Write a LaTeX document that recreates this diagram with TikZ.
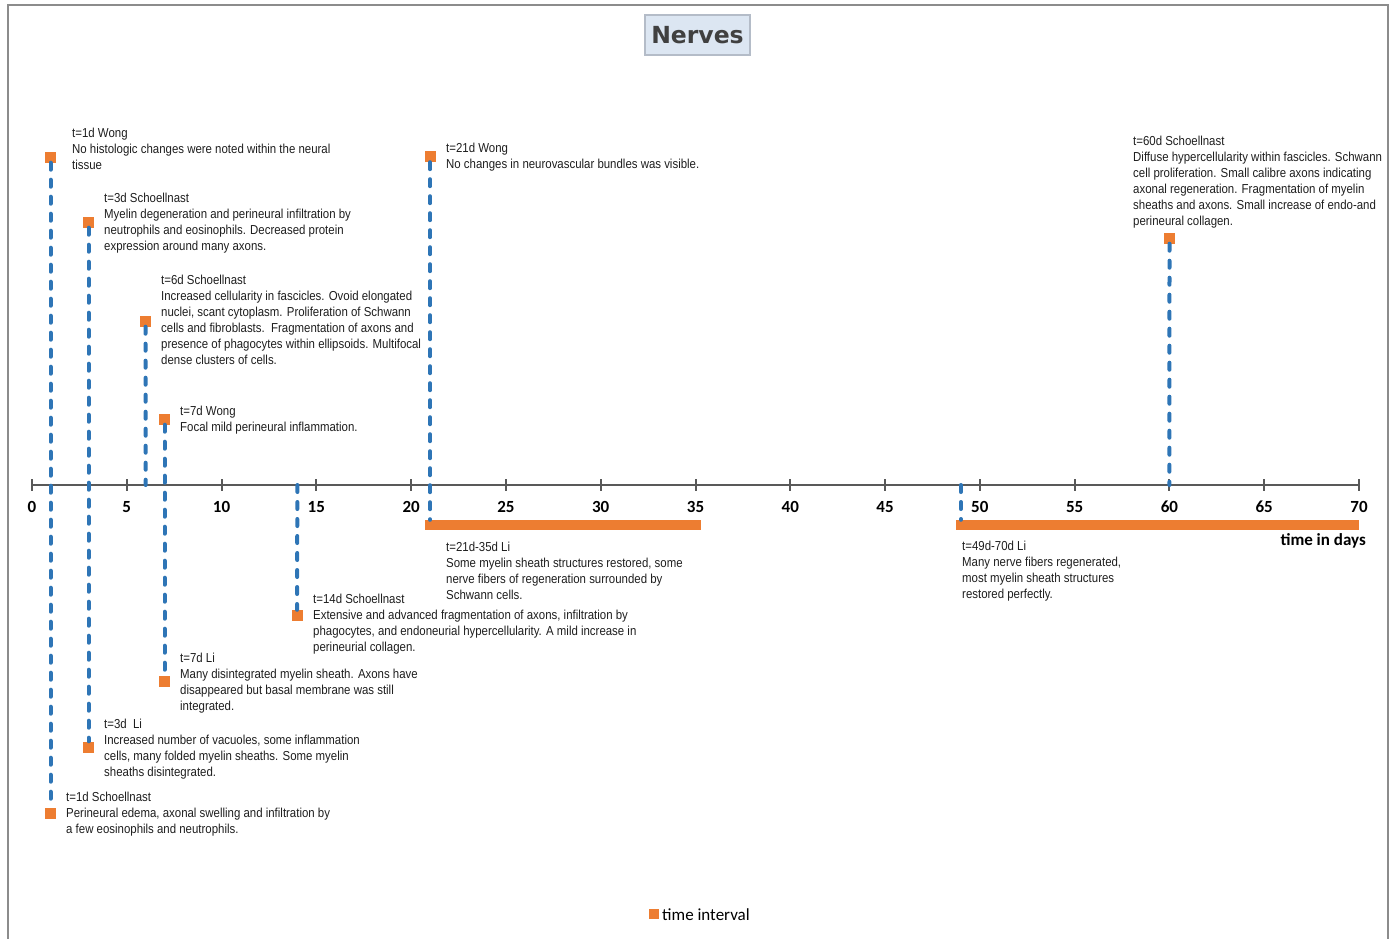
\documentclass[tikz,border=0pt]{standalone}
\usepackage{fontspec}
\setmainfont{Liberation Sans}
\newfontfamily\notefont[FakeStretch=0.88]{Liberation Sans}
\newfontfamily\axisfont{Carlito}
\newfontfamily\titlefont{DejaVu Sans}

\definecolor{frameGray}{HTML}{8C8C8C}
\definecolor{axisGray}{HTML}{595959}
\definecolor{eventOrange}{HTML}{ED7D31}
\definecolor{guideBlue}{HTML}{2E75B6}
\definecolor{titleFill}{HTML}{DCE6F2}
\definecolor{titleLine}{HTML}{B4BCC8}
\definecolor{titleText}{HTML}{404040}
\definecolor{noteText}{HTML}{1E1E1E}

\begin{document}
\begin{tikzpicture}[x=1pt,y=-1pt,
  note/.style={anchor=north west, inner sep=0pt, align=left, text=noteText,
    font=\notefont\fontsize{13pt}{16pt}\selectfont},
  marker/.style={rectangle, fill=eventOrange, minimum size=11pt, inner sep=0pt},
  span/.style={rectangle, fill=eventOrange, minimum height=10pt, inner sep=0pt},
  guide/.style={draw=guideBlue, line width=4pt, line cap=round, dash pattern=on 7pt off 10pt},
  ticklabel/.style={font=\axisfont\bfseries\fontsize{17pt}{20pt}\selectfont, text=black, inner sep=0pt},
]
\useasboundingbox (0,0) rectangle (1391,938);

% outer frame (open at the bottom edge)
\draw[frameGray, line width=2pt] (8,940) -- (8,5) -- (1388,5) -- (1388,940);

% title
\node[draw=titleLine, line width=1.2pt, fill=titleFill, minimum width=105pt, minimum height=40pt,
      font=\titlefont\bfseries\fontsize{23.5pt}{26pt}\selectfont, text=titleText] (title) at (697.5,35) {Nerves};

% time axis with ticks every 5 days (18.957 px per day)
\draw[axisGray, line width=2.6pt] (32,485) -- (1359,485);
\foreach \d in {0,5,...,70} {
  \draw[axisGray, line width=2pt] ({32+18.957*\d},479) -- ({32+18.957*\d},491);
  \node[ticklabel] (tl\d) at ({32+18.957*\d},507) {\d};
}
\node[font=\axisfont\bfseries\fontsize{17pt}{20pt}\selectfont, anchor=east, inner sep=0pt] (unit) at (1366,541) {time in days};

% anchor points on the axis
\coordinate (a6) at (145.7,485);
\coordinate (a14) at (297.4,485);
\coordinate (a49) at (960.9,485);
\coordinate (a60) at (1169.4,485);

% interval bars
\node[span, minimum width=276pt] (bar1) at (563,525) {};
\node[span, minimum width=403pt] (bar2) at (1157.5,525) {};

% event markers
\node[marker] (m1w) at (50.5,157) {};
\node[marker] (m1s) at (50.5,813) {};
\node[marker] (m3s) at (88.5,222) {};
\node[marker] (m3l) at (88.5,747) {};
\node[marker] (m6s) at (145.5,321) {};
\node[marker] (m7w) at (164.5,419) {};
\node[marker] (m7l) at (164.5,681.5) {};
\node[marker] (m14s) at (297,615.5) {};
\node[marker] (m21w) at (430,156.5) {};
\node[marker] (m60s) at (1169.5,238) {};

% dashed guides from markers to the axis / bars
\draw[guide] (m1w) -- (m1s);
\draw[guide] (m3s) -- (m3l);
\draw[guide] (m6s) -- (a6);
\draw[guide] (m7w) -- (m7l);
\draw[guide] (a14) -- (m14s);
\draw[guide] (m21w) -- (m21w |- bar1.north);
\draw[guide] (m60s) -- (a60);
\draw[guide] (a49) -- (a49 |- bar2.north);

% annotations
\node[note] (t1w) at (72,127.5) {t=1d Wong\\No histologic changes were noted within the neural\\tissue};
\node[note] (t3s) at (104,192.5) {t=3d Schoellnast\\Myelin degeneration and perineural infiltration by\\neutrophils and eosinophils. Decreased protein\\expression around many axons.};
\node[note] (t6s) at (161,274.5) {t=6d Schoellnast\\Increased cellularity in fascicles. Ovoid elongated\\nuclei, scant cytoplasm. Proliferation of Schwann\\cells and fibroblasts.\ \ Fragmentation of axons and\\presence of phagocytes within ellipsoids. Multifocal\\dense clusters of cells.};
\node[note] (t7w) at (180,405.5) {t=7d Wong\\Focal mild perineural inflammation.};
\node[note] (t21w) at (446,142.5) {t=21d Wong\\No changes in neurovascular bundles was visible.};
\node[note] (t60s) at (1133,135.5) {t=60d Schoellnast\\Diffuse hypercellularity within fascicles. Schwann\\cell proliferation. Small calibre axons indicating\\axonal regeneration. Fragmentation of myelin\\sheaths and axons. Small increase of endo-and\\perineural collagen.};
\node[note] (t21l) at (446,541.5) {t=21d-35d Li\\Some myelin sheath structures restored, some\\nerve fibers of regeneration surrounded by\\Schwann cells.};
\node[note] (t49l) at (962,540.5) {t=49d-70d Li\\Many nerve fibers regenerated,\\most myelin sheath structures\\restored perfectly.};
\node[note] (t14s) at (313,593.5) {t=14d Schoellnast\\Extensive and advanced fragmentation of axons, infiltration by\\phagocytes, and endoneurial hypercellularity. A mild increase in\\perineurial collagen.};
\node[note] (t7l) at (180,652.5) {t=7d Li\\Many disintegrated myelin sheath. Axons have\\disappeared but basal membrane was still\\integrated.};
\node[note] (t3l) at (104,718.5) {t=3d\ \ Li\\Increased number of vacuoles, some inflammation\\cells, many folded myelin sheaths. Some myelin\\sheaths disintegrated.};
\node[note] (t1s) at (66,791.5) {t=1d Schoellnast\\Perineural edema, axonal swelling and infiltration by\\a few eosinophils and neutrophils.};

% legend
\node[rectangle, fill=eventOrange, minimum size=10pt, inner sep=0pt] (legkey) at (654,914) {};
\node[font=\axisfont\fontsize{17pt}{20pt}\selectfont, anchor=west, inner sep=0pt] (legtext) at (662,915) {time interval};
\end{tikzpicture}
\end{document}
